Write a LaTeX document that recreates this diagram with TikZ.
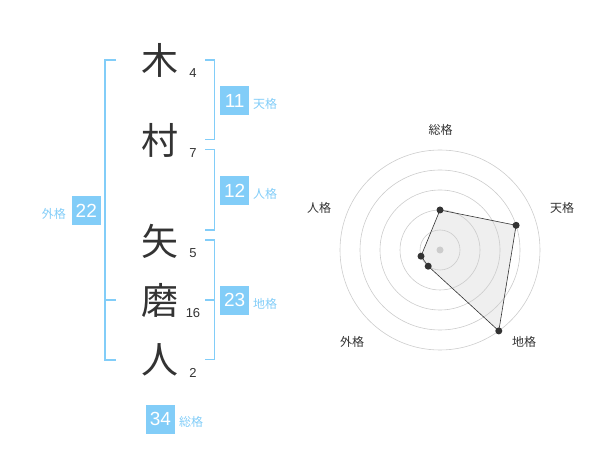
\documentclass[tikz,border=0pt]{standalone}
\usepackage{fontspec}
\setmainfont{Liberation Sans}
\newfontfamily\cjk{Noto Sans CJK JP}
\definecolor{lblue}{HTML}{82CDF8}
\definecolor{dark}{HTML}{333333}
\definecolor{gridc}{HTML}{CCCCCC}
\definecolor{fillc}{HTML}{EFEFEF}
\begin{document}
\begin{tikzpicture}[x=1pt,y=-1pt,
  kanji/.style={font=\cjk\fontsize{37}{37}\selectfont,text=dark,inner sep=0pt},
  stroke/.style={font=\fontsize{13}{13}\selectfont,text=dark,inner sep=0pt},
  valbox/.style={fill=lblue,text=white,font=\fontsize{19}{19}\selectfont,minimum width=29pt,minimum height=29pt,inner sep=0pt},
  vlabel/.style={font=\cjk\fontsize{12}{12}\selectfont,text=lblue,inner sep=0pt},
  bracket/.style={draw=lblue,line width=1.6pt},
  rlabel/.style={font=\cjk\fontsize{12}{12}\selectfont,text=dark,inner sep=0pt},
  ring/.style={draw=gridc,line width=0.6pt},
  pt/.style={circle,fill=dark,inner sep=0pt,minimum size=7pt}]
\useasboundingbox (0,0) rectangle (600,470);
% characters
\node[kanji] (k1) at (160,60) {木};
\node[kanji] (k2) at (160,140) {村};
\node[kanji] (k3) at (160,241) {矢};
\node[kanji] (k4) at (160,300) {磨};
\node[kanji] (k5) at (160,360) {人};
\node[stroke] (s1) at (193,73) {4};
\node[stroke] (s2) at (193,153) {7};
\node[stroke] (s3) at (193,253) {5};
\node[stroke] (s4) at (193,313) {16};
\node[stroke] (s5) at (193,373) {2};
% brackets
\draw[bracket] (116,60) -- (105,60) -- (105,360) -- (116,360);
\draw[bracket] (105,300) -- (116,300);
\draw[bracket] (205,60) -- (214.5,60) -- (214.5,139.5) -- (205,139.5);
\draw[bracket] (205,149.5) -- (214.5,149.5) -- (214.5,230) -- (205,230);
\draw[bracket] (205,240) -- (214.5,240) -- (214.5,359.5) -- (205,359.5);
\draw[bracket] (205,300) -- (214.5,300);
% value boxes
\node[valbox] (b1) at (234.7,100.5) {11};
\node[vlabel,anchor=west] (l1) at (253,104) {天格};
\node[valbox] (b2) at (234.7,190.5) {12};
\node[vlabel,anchor=west] (l2) at (253,194) {人格};
\node[valbox] (b3) at (86.3,210.5) {22};
\node[vlabel,anchor=east] (l3) at (66,213.5) {外格};
\node[valbox] (b4) at (234.7,300.3) {23};
\node[vlabel,anchor=west] (l4) at (253,303.5) {地格};
\node[valbox] (b5) at (160.5,419) {34};
\node[vlabel,anchor=west] (l5) at (179,422) {総格};
% radar
\coordinate (c) at (440,250);
\path (c) ++(0,-40) coordinate (pa);
\path (c) ++(76.1,-24.7) coordinate (pb);
\path (c) ++(58.8,80.9) coordinate (pc);
\path (c) ++(-11.8,16.2) coordinate (pd);
\path (c) ++(-19.0,6.2) coordinate (pe);
\fill[fillc] (pa) -- (pb) -- (pc) -- (pd) -- (pe) -- cycle;
\foreach \r in {20,40,60,80,100} \draw[ring] (c) circle[radius=\r];
\fill[gridc] (c) circle[radius=3.5];
\draw[dark,line width=0.6pt] (pa) -- (pb) -- (pc) -- (pd) -- (pe) -- cycle;
\foreach \p in {pa,pb,pc,pd,pe} \node[pt] at (\p) {};
\node[rlabel] (r1) at (440.5,130) {総格};
\node[rlabel] (r2) at (562,208) {天格};
\node[rlabel] (r3) at (319,208) {人格};
\node[rlabel] (r4) at (352,342) {外格};
\node[rlabel] (r5) at (524,342) {地格};
\end{tikzpicture}
\end{document}
